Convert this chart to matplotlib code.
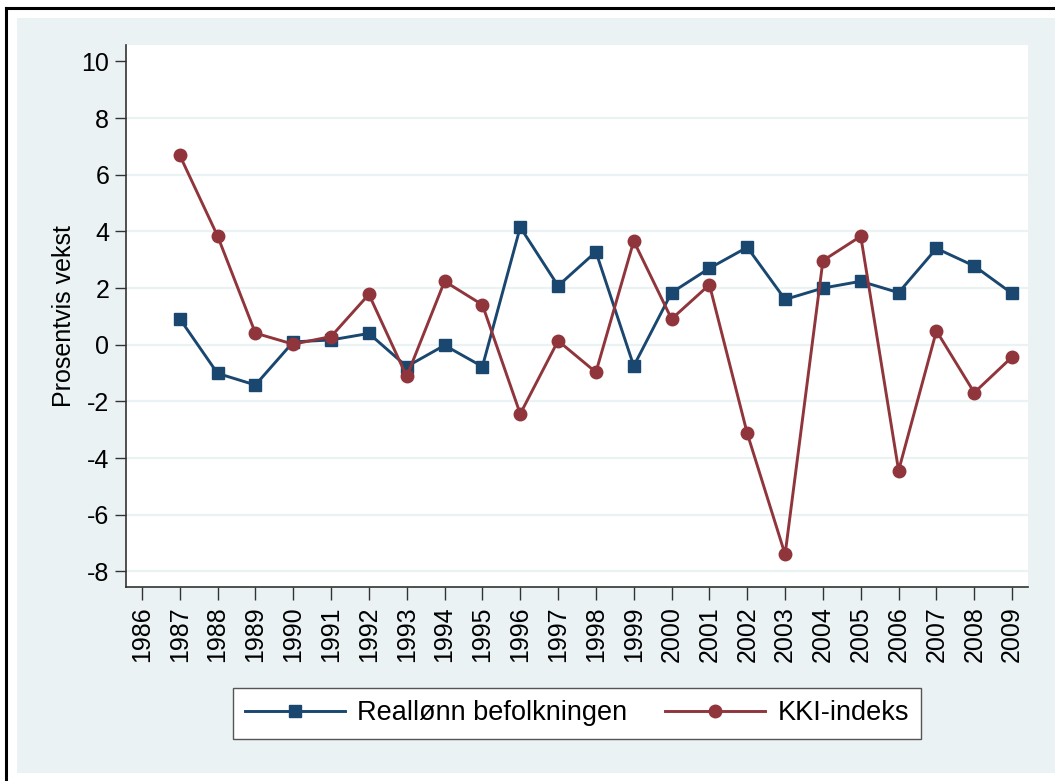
import matplotlib
matplotlib.use("Agg")
import matplotlib.pyplot as plt
from matplotlib.patches import Rectangle
from matplotlib.lines import Line2D

years = list(range(1987, 2010))
reallonn = [0.92, -1.01, -1.42, 0.10, 0.17, 0.40, -0.77, -0.02, -0.77, 4.15,
            2.08, 3.28, -0.75, 1.84, 2.70, 3.44, 1.60, 2.00, 2.24, 1.84,
            3.40, 2.78, 1.81]
kki = [6.69, 3.84, 0.41, 0.02, 0.29, 1.78, -1.12, 2.24, 1.41, -2.44,
       0.14, -0.97, 3.66, 0.91, 2.12, -3.13, -7.40, 2.97, 3.83, -4.44,
       0.49, -1.69, -0.43]
xticks = list(range(1986, 2010))
yticks = [-8, -6, -4, -2, 0, 2, 4, 6, 8, 10]
labels = ["Reallønn befolkningen", "KKI-indeks"]
ylabel = "Prosentvis vekst"

plt.rcParams['font.family'] = ['Liberation Sans', 'DejaVu Sans']

W, H = 1055, 781
fig = plt.figure(figsize=(W / 100, H / 100), dpi=100)
fig.patch.set_facecolor('white')

bg = '#EAF2F3'
fig.patches.append(Rectangle((17 / W, 1 - 773 / H), 1 - 17 / W, (773 - 18) / H,
                             transform=fig.transFigure, facecolor=bg,
                             edgecolor='none', zorder=-5))
fig.lines.append(Line2D([6 / W, 6 / W], [0, 1 - 8 / H], transform=fig.transFigure,
                        color='black', lw=2.2, zorder=-4))
fig.lines.append(Line2D([6 / W, 1], [1 - 8 / H, 1 - 8 / H], transform=fig.transFigure,
                        color='black', lw=2.2, zorder=-4))

ax = fig.add_axes([126 / W, 1 - 587 / H, (1028 - 126) / W, (587 - 45) / H])
ax.set_zorder(1)
ax.set_facecolor('white')

blue = '#1a476f'
red = '#90353b'
ax.plot(years, reallonn, color=blue, lw=2.1, marker='s', markersize=8.5,
        label=labels[0], zorder=3)
ax.plot(years, kki, color=red, lw=2.1, marker='o', markersize=9,
        label=labels[1], zorder=3)

fs = 18
ax.set_xlim(1985.58, 2009.42)
ax.set_ylim(-8.55, 10.58)
ax.set_xticks(xticks)
ax.set_xticklabels([str(x) for x in xticks], rotation=90, fontsize=fs)
ax.set_yticks(yticks)
ax.set_yticklabels([str(y) for y in yticks], fontsize=fs)
ax.set_ylabel(ylabel, fontsize=fs, labelpad=4)

for s in ['top', 'right']:
    ax.spines[s].set_visible(False)
for s in ['left', 'bottom']:
    ax.spines[s].set_color('#333333')
    ax.spines[s].set_linewidth(1.2)
ax.tick_params(axis='y', length=8, width=1.0, color='#333333', pad=4)
ax.tick_params(axis='x', length=9, width=1.0, color='#333333', pad=5)

ax.yaxis.grid(True, color=bg, lw=1.6)
ax.set_axisbelow(True)
gl = ax.get_ygridlines()
gl[-1].set_visible(False)

leg = fig.legend(loc='center', bbox_to_anchor=(577 / W, 1 - 713.5 / H),
                 ncol=2, fontsize=19.5, frameon=True, fancybox=False,
                 handlelength=3.7, columnspacing=1.4, borderpad=0.45,
                 handletextpad=0.45, framealpha=1.0, borderaxespad=0)
leg.get_frame().set_edgecolor('#555555')
leg.get_frame().set_facecolor('white')
leg.get_frame().set_linewidth(1.0)

fig.savefig('out.png', dpi=100, facecolor='white')
